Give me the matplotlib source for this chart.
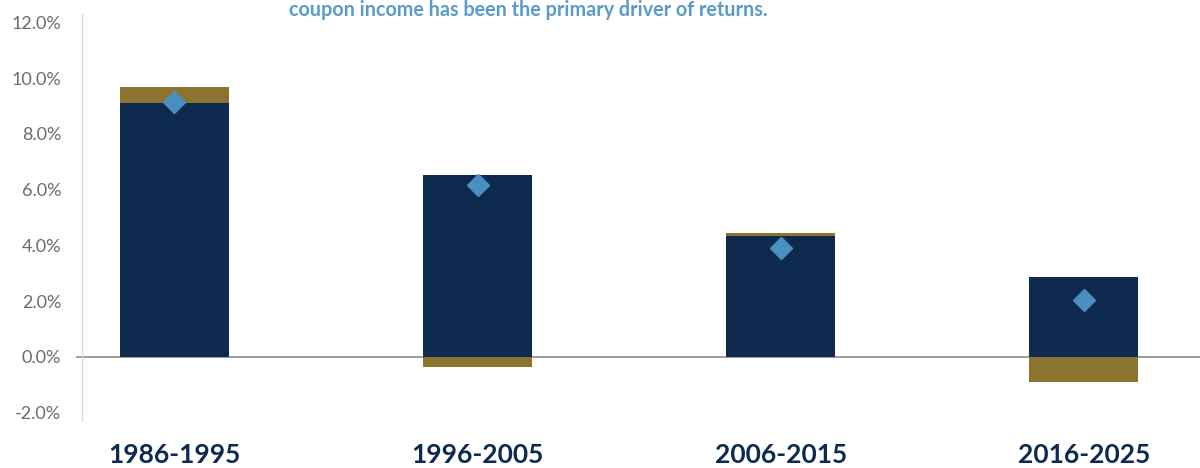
import matplotlib
matplotlib.use("Agg")
import matplotlib.pyplot as plt
from matplotlib.ticker import FuncFormatter
import numpy as np

periods = ["1986-1995", "1996-2005", "2006-2015", "2016-2025"]
coupon_return = [9.11, 6.53, 4.34, 2.88]
price_return = [0.58, -0.38, 0.12, -0.90]
total_return = [9.15, 6.15, 3.91, 2.05]
y_ticks = [-2, 0, 2, 4, 6, 8, 10, 12]
title_text = "coupon income has been the primary driver of returns."

NAVY = "#0f2a4f"
GOLD = "#8b7430"
DIAMOND = "#4a8fc0"
TICK_GRAY = "#6b6b6b"

plt.rcParams["font.family"] = ["Lato", "DejaVu Sans"]

fig = plt.figure(figsize=(12, 4.68), dpi=100)
ax = fig.add_axes([82 / 1200, 47 / 468, 1 - 82 / 1200, (421 - 14) / 468])

x = np.arange(len(periods))
width = 0.36

ax.bar(x, coupon_return, width=width, color=NAVY, zorder=2)
price_bottom = [c if p > 0 else 0 for c, p in zip(coupon_return, price_return)]
ax.bar(x, price_return, width=width, bottom=price_bottom, color=GOLD, zorder=2)
ax.plot(x, total_return, linestyle="none", marker="D", markersize=11,
        color=DIAMOND, zorder=3)

ax.set_xlim(-0.305, 3.383)
ax.set_ylim(-2.3, 12.3)

# zero line, running slightly past the left spine
ax.plot([-0.322, 3.383], [0, 0], color="#8c8c8c", linewidth=1.2,
        clip_on=False, zorder=1)

for side in ("top", "right", "bottom"):
    ax.spines[side].set_visible(False)
ax.spines["left"].set_color("#d9d9d9")
ax.spines["left"].set_linewidth(1.0)

ax.set_yticks(y_ticks)
ax.yaxis.set_major_formatter(FuncFormatter(lambda v, _: f"{v:.1f}%"))
ax.tick_params(axis="y", length=0, pad=15, labelsize=13, labelcolor=TICK_GRAY)

ax.set_xticks(x)
ax.set_xticklabels(periods, fontsize=19, fontweight="bold", color=NAVY)
ax.tick_params(axis="x", length=0, pad=16)

fig.text(528 / 1200, 1 - 16 / 468, title_text, ha="center", va="baseline",
         fontsize=14.2, fontweight="bold", color="#5a9bc9",
         family=["Liberation Sans Narrow", "Lato"])

fig.savefig("out.png", dpi=100)
